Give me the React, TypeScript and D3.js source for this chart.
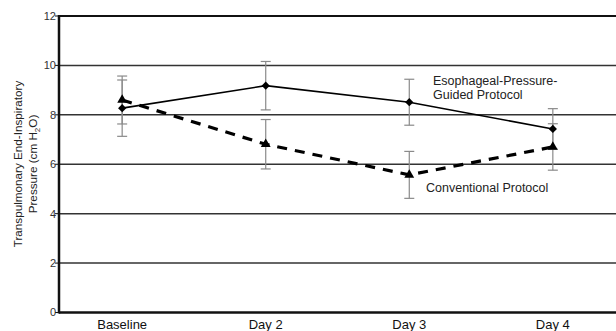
import React, { useEffect, useRef } from 'react';
import * as d3 from 'd3';

const days = ['Baseline', 'Day 2', 'Day 3', 'Day 4'];
const yTicks = [0, 2, 4, 6, 8, 10, 12];

// esophageal-pressure-guided protocol (diamonds, solid)
const esoMean = [8.27, 9.18, 8.51, 7.43];
const esoErr = [1.14, 0.98, 0.93, 0.82];

// conventional protocol (triangles, dashed)
const convMean = [8.6, 6.81, 5.57, 6.7];
const convErr = [0.97, 1.0, 0.95, 0.94];

const W = 616;
const H = 331;

function draw(el: SVGSVGElement) {
  const margin = { top: 16, right: 0, bottom: 18.5, left: 59 };
  const x = d3.scalePoint<string>().domain(days).range([margin.left, W]).padding(0.44);
  const y = d3.scaleLinear().domain([0, 12]).range([H - margin.bottom, margin.top]);

  const svg = d3.select(el);
  svg.selectAll('*').remove();
  svg.attr('viewBox', `0 0 ${W} ${H}`).style('font-family', '"Liberation Sans", Arial, sans-serif');

  // gridlines
  svg.append('g')
    .selectAll('line')
    .data(yTicks.filter(t => t > 0 && t < 12))
    .join('line')
      .attr('x1', margin.left).attr('x2', W)
      .attr('y1', d => y(d)).attr('y2', d => y(d))
      .attr('stroke', '#333')
      .attr('stroke-width', 1.5);

  // top border + axes
  svg.append('line')
    .attr('x1', margin.left).attr('x2', W)
    .attr('y1', y(12)).attr('y2', y(12))
    .attr('stroke', '#111').attr('stroke-width', 2.2);
  svg.append('line')
    .attr('x1', margin.left).attr('x2', W)
    .attr('y1', y(0)).attr('y2', y(0))
    .attr('stroke', '#111').attr('stroke-width', 2.5);
  svg.append('line')
    .attr('x1', margin.left).attr('x2', margin.left)
    .attr('y1', y(12) - 1).attr('y2', y(0) + 1)
    .attr('stroke', '#111').attr('stroke-width', 2.5);

  // y ticks
  const yt = svg.append('g');
  yt.selectAll('line')
    .data(yTicks)
    .join('line')
      .attr('x1', margin.left - 4).attr('x2', margin.left)
      .attr('y1', d => y(d)).attr('y2', d => y(d))
      .attr('stroke', '#111').attr('stroke-width', 1);
  yt.selectAll('text')
    .data(yTicks)
    .join('text')
      .attr('x', margin.left - 3)
      .attr('y', d => y(d))
      .attr('dy', '0.35em')
      .attr('text-anchor', 'end')
      .attr('font-size', 11)
      .attr('fill', '#333')
      .text(d => d);

  // x labels
  svg.append('g')
    .selectAll('text')
    .data(days)
    .join('text')
      .attr('x', d => x(d)!)
      .attr('y', 329)
      .attr('text-anchor', 'middle')
      .attr('font-size', 13)
      .attr('fill', '#111')
      .text(d => d);

  // y title
  const title = svg.append('text')
    .attr('transform', `translate(22,164) rotate(-90)`)
    .attr('text-anchor', 'middle')
    .attr('font-size', 11.7)
    .attr('fill', '#222');
  title.append('tspan').attr('x', 0).attr('y', 0).text('Transpulmonary End-Inspiratory');
  const l2 = title.append('tspan').attr('x', 0).attr('y', 15);
  l2.append('tspan').text('Pressure (cm H');
  l2.append('tspan').attr('font-size', 8).attr('dy', 3).text('2');
  l2.append('tspan').attr('dy', -3).text('O)');

  const series = [
    { mean: convMean, err: convErr, dash: '10,8', width: 3.2, marker: d3.symbolTriangle, size: 42, rot: 0 },
    { mean: esoMean, err: esoErr, dash: null, width: 1.6, marker: d3.symbolSquare, size: 34, rot: 45 },
  ];

  // error bars
  series.forEach(s => {
    const g = svg.append('g').attr('stroke', '#8a8a8a').attr('stroke-width', 1.2);
    days.forEach((d, i) => {
      const cx = x(d)!;
      const hi = y(s.mean[i] + s.err[i]);
      const lo = y(s.mean[i] - s.err[i]);
      g.append('line').attr('x1', cx).attr('x2', cx).attr('y1', hi).attr('y2', lo);
      g.append('line').attr('x1', cx - 5).attr('x2', cx + 5).attr('y1', hi).attr('y2', hi);
      g.append('line').attr('x1', cx - 5).attr('x2', cx + 5).attr('y1', lo).attr('y2', lo);
    });
  });

  // lines + markers
  series.forEach(s => {
    const line = d3.line<number>()
      .x((_, i) => x(days[i])!)
      .y(v => y(v));
    svg.append('path')
      .datum(s.mean)
      .attr('d', line)
      .attr('fill', 'none')
      .attr('stroke', '#000')
      .attr('stroke-width', s.width)
      .attr('stroke-dasharray', s.dash);
    svg.append('g')
      .selectAll('path')
      .data(s.mean)
      .join('path')
        .attr('transform', (v, i) => `translate(${x(days[i])},${y(v)}) rotate(${s.rot})`)
        .attr('d', d3.symbol().type(s.marker).size(s.size)())
        .attr('fill', '#000');
  });

  // annotations
  const ann = svg.append('g').attr('font-size', 12.5).attr('fill', '#222');
  ann.append('text').attr('x', 433).attr('y', 85).text('Esophageal-Pressure-');
  ann.append('text').attr('x', 433).attr('y', 99).text('Guided Protocol');
  ann.append('text').attr('x', 426).attr('y', 192).text('Conventional Protocol');
}

function Chart() {
  const ref = useRef<SVGSVGElement>(null);

  useEffect(() => {
    if (ref.current) draw(ref.current);
  }, []);

  return <svg ref={ref} width={W} height={H} style={{ position: 'absolute', left: 0, top: 0, background: '#fff' }} />;
}

export default function App() {
  return <Chart />;
}
